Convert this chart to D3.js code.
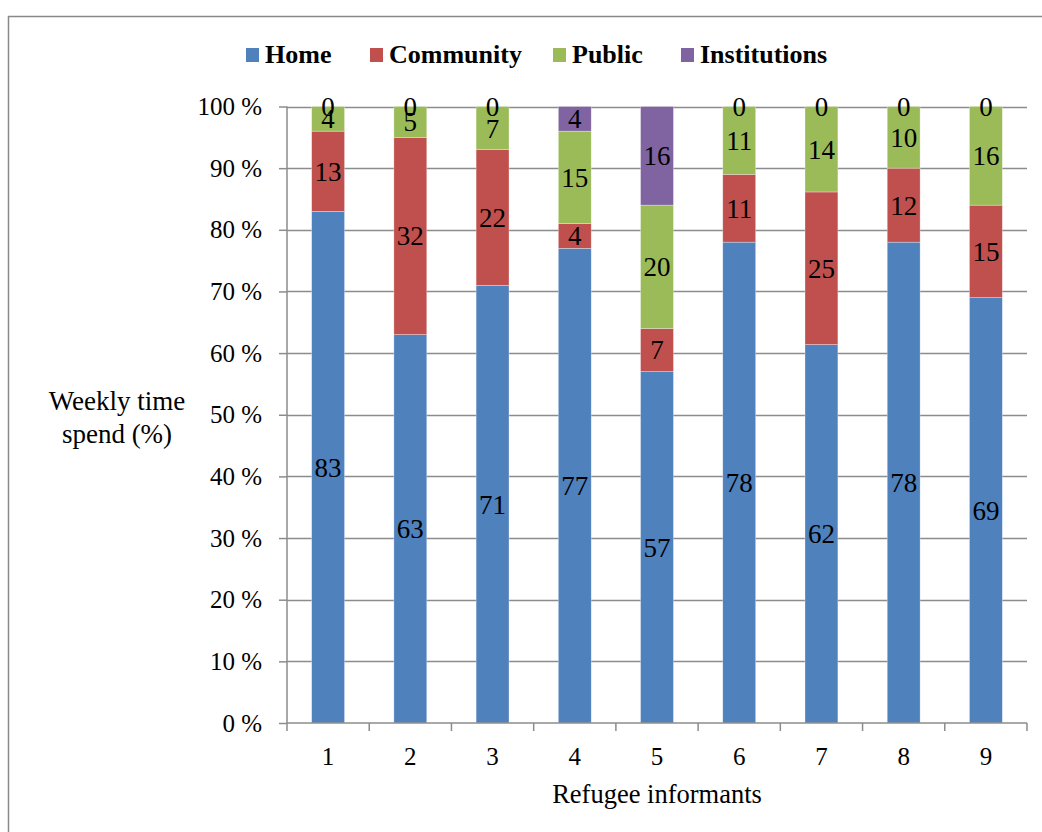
<!DOCTYPE html>
<html lang="en">
<head>
<meta charset="UTF-8">
<title>Weekly time spend</title>
<style>
  body { margin: 0; background: #fff; }
  text { font-family: "Liberation Serif", "Times New Roman", serif; fill: #000; }
</style>
</head>
<body>
<script src="https://d3js.org/d3.v7.min.js"></script>
<script>
// data
const informants = ["1", "2", "3", "4", "5", "6", "7", "8", "9"];
const seriesNames = ["Home", "Community", "Public", "Institutions"];
const home = [83, 63, 71, 77, 57, 78, 62, 78, 69];
const community = [13, 32, 22, 4, 7, 11, 25, 12, 15];
const publicPlaces = [4, 5, 7, 15, 20, 11, 14, 10, 16];
const institutions = [0, 0, 0, 4, 16, 0, 0, 0, 0];
const colors = ["#4F81BD", "#C0504D", "#9BBB59", "#8064A2"];
const yTicks = [0, 10, 20, 30, 40, 50, 60, 70, 80, 90, 100];

const W = 1042, H = 832;
const plotLeft = 287, plotRight = 1027, plotTop = 106.5, plotBottom = 723;

const svg = d3.select("body").append("svg")
    .attr("width", W).attr("height", H);

// outer frame
svg.append("rect")
    .attr("x", 8.5).attr("y", 16.5)
    .attr("width", 1100).attr("height", 900)
    .attr("fill", "none").attr("stroke", "#898989").attr("stroke-width", 1.5);

const rows = informants.map((k, i) => ({
    key: k, Home: home[i], Community: community[i],
    Public: publicPlaces[i], Institutions: institutions[i]
}));

const stack = d3.stack().keys(seriesNames).offset(d3.stackOffsetExpand);
const layers = stack(rows);

const x = d3.scaleBand().domain(informants).range([plotLeft, plotRight]).padding(0);
const y = d3.scaleLinear().domain([0, 1]).range([plotBottom, plotTop]);
const bw = x.bandwidth();

// gridlines
svg.append("g").selectAll("line")
    .data(yTicks.slice(1))
    .join("line")
    .attr("x1", plotLeft).attr("x2", plotRight)
    .attr("y1", d => Math.round(y(d / 100)) + 0.5)
    .attr("y2", d => Math.round(y(d / 100)) + 0.5)
    .attr("stroke", "#8c8c8c").attr("stroke-width", 1.5);

// bars
layers.forEach((layer, li) => {
    svg.append("g").selectAll("rect")
        .data(layer)
        .join("rect")
        .attr("x", d => x(d.data.key) + bw * 0.3)
        .attr("width", bw * 0.4)
        .attr("y", d => y(d[1]))
        .attr("height", d => y(d[0]) - y(d[1]))
        .attr("fill", colors[li])
        .attr("stroke", "#fff").attr("stroke-opacity", 0.5).attr("stroke-width", 0.6);
});

// value labels
layers.forEach((layer, li) => {
    svg.append("g").selectAll("text")
        .data(layer)
        .join("text")
        .attr("x", d => x(d.data.key) + bw / 2)
        .attr("y", d => (y(d[0]) + y(d[1])) / 2)
        .attr("dy", "0.35em")
        .attr("text-anchor", "middle")
        .style("font-size", "27px")
        .text(d => d.data[layer.key]);
});

// y axis
const yAxis = svg.append("g")
    .attr("transform", "translate(" + plotLeft + ",0)")
    .call(d3.axisLeft(y).tickValues(yTicks.map(t => t / 100))
        .tickFormat(d => Math.round(d * 100) + " %").tickSize(8).tickPadding(17));
yAxis.selectAll("path, line").attr("stroke", "#8c8c8c").attr("stroke-width", 1.5);
yAxis.select(".domain").attr("d", "M0," + plotTop + "V" + plotBottom);
yAxis.selectAll("text").style("font-size", "25px")
    .style("font-family", "'Liberation Serif', serif").attr("fill", "#000");

// x axis baseline and boundary ticks
svg.append("line")
    .attr("x1", plotLeft).attr("x2", plotRight)
    .attr("y1", plotBottom).attr("y2", plotBottom)
    .attr("stroke", "#8c8c8c").attr("stroke-width", 1.5);
svg.append("g").selectAll("line")
    .data(informants.concat(["end"]))
    .join("line")
    .attr("x1", (d, i) => plotLeft + i * bw).attr("x2", (d, i) => plotLeft + i * bw)
    .attr("y1", plotBottom).attr("y2", plotBottom + 8)
    .attr("stroke", "#8c8c8c").attr("stroke-width", 1.5);
svg.append("g").selectAll("text")
    .data(informants)
    .join("text")
    .attr("x", d => x(d) + bw / 2)
    .attr("y", 765)
    .attr("text-anchor", "middle")
    .style("font-size", "25px")
    .text(d => d);

// axis titles
svg.append("text")
    .attr("x", 657).attr("y", 803)
    .attr("text-anchor", "middle")
    .style("font-size", "26.5px")
    .text("Refugee informants");
const yt = svg.append("text")
    .attr("text-anchor", "middle")
    .style("font-size", "27px");
yt.append("tspan").attr("x", 117).attr("y", 410).text("Weekly time");
yt.append("tspan").attr("x", 117).attr("y", 443).text("spend (%)");

// legend
const legendX = [246, 370, 553, 681];
const legend = svg.append("g");
seriesNames.forEach((name, i) => {
    legend.append("rect")
        .attr("x", legendX[i]).attr("y", 48)
        .attr("width", 13).attr("height", 14)
        .attr("fill", colors[i]);
    legend.append("text")
        .attr("x", legendX[i] + 19).attr("y", 63)
        .style("font-size", "26px").style("font-weight", "bold")
        .text(name);
});
</script>
</body>
</html>
